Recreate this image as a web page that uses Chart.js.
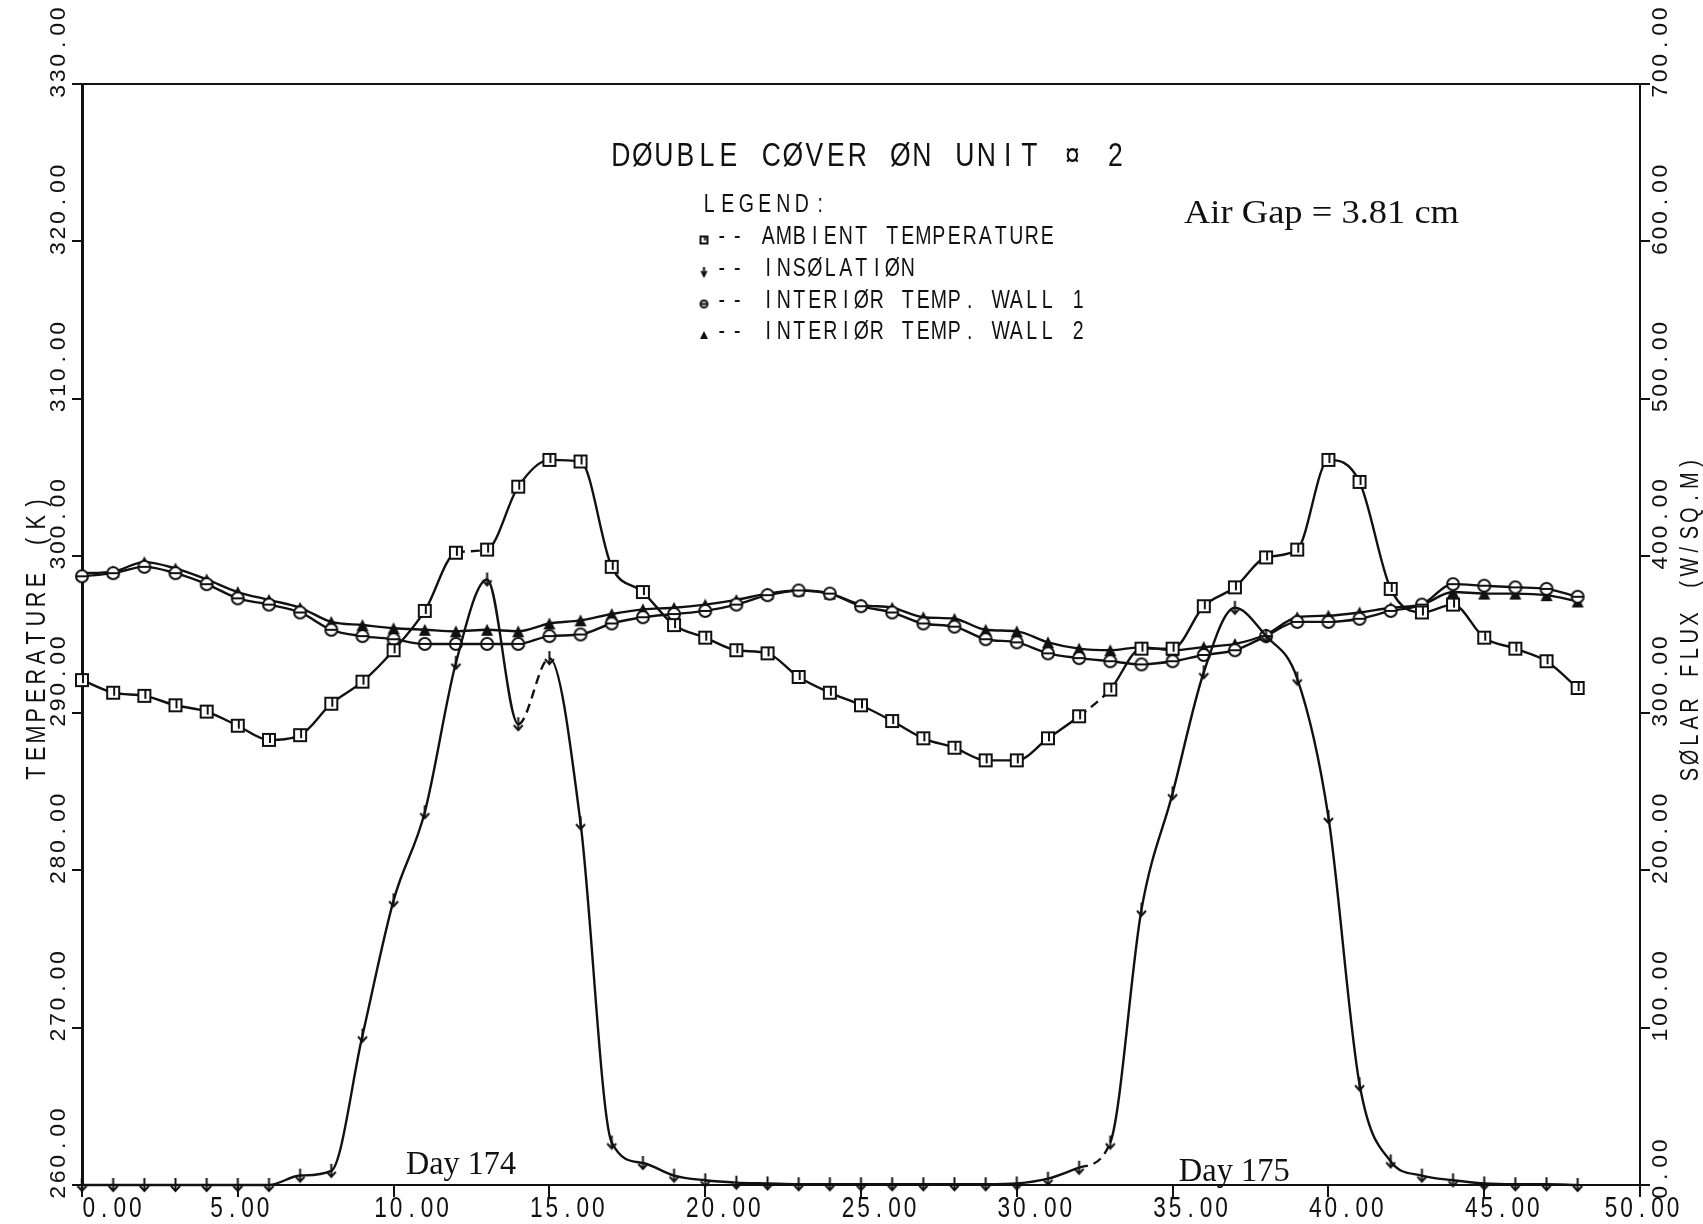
<!DOCTYPE html>
<html lang="en">
<head>
    <meta charset="UTF-8">
    <title>Double Cover on Unit 2</title>
    <script src="https://cdn.jsdelivr.net/npm/chart.js"></script>
    <style>
        html, body {
            margin: 0;
            padding: 0;
            background: #fff;
        }
        #wrap {
            width: 1703px;
            height: 1224px;
        }
    </style>
</head>
<body>
    <div id="wrap"><canvas id="grafico" width="1703" height="1224"></canvas></div>

    <script>
        // hourly readings, days 174-175
        const hours = [0, 1, 2, 3, 4, 5, 6, 7, 8, 9, 10, 11, 12, 13, 14, 15, 16, 17, 18, 19, 20, 21, 22, 23, 24,
                       25, 26, 27, 28, 29, 30, 31, 32, 33, 34, 35, 36, 37, 38, 39, 40, 41, 42, 43, 44, 45, 46, 47, 48];

        const ambientK = [292.1, 291.3, 291.1, 290.5, 290.1, 289.2, 288.3, 288.6, 290.6, 292.0, 294.0, 296.5, 300.2,
                          300.4, 304.4, 306.1, 306.0, 299.3, 297.7, 295.6, 294.8, 294.0, 293.8, 292.3, 291.3, 290.5,
                          289.5, 288.4, 287.8, 287.0, 287.0, 288.4, 289.8, 291.5, 294.1, 294.1, 296.8, 298.0, 299.9,
                          300.4, 306.1, 304.7, 297.9, 296.4, 296.9, 294.8, 294.1, 293.3, 291.6];

        const insolation = [0, 0, 0, 0, 0, 0, 0, 6, 9, 95, 181, 237, 332, 385, 293, 335, 230, 27, 14, 6, 3, 1.5, 1,
                            0.5, 0.5, 0.5, 0.5, 0.5, 0.5, 0.5, 1, 4, 11, 27, 175, 249, 326, 367, 349, 322, 234, 64,
                            15, 6, 3, 1, 0.5, 0.5, 0];

        const wall1K = [298.7, 298.9, 299.3, 298.9, 298.2, 297.3, 296.9, 296.4, 295.3, 294.9, 294.7, 294.4, 294.4,
                        294.4, 294.4, 294.9, 295.0, 295.7, 296.1, 296.3, 296.5, 296.9, 297.5, 297.8, 297.6, 296.8,
                        296.4, 295.7, 295.5, 294.7, 294.5, 293.8, 293.5, 293.3, 293.1, 293.3, 293.7, 294.0, 294.9,
                        295.8, 295.8, 296.0, 296.5, 296.9, 298.2, 298.1, 298.0, 297.9, 297.4];

        const wall2K = [298.9, 299.0, 299.6, 299.2, 298.5, 297.7, 297.2, 296.7, 295.8, 295.6, 295.4, 295.3, 295.2,
                        295.3, 295.2, 295.7, 295.9, 296.3, 296.6, 296.7, 296.9, 297.2, 297.6, 297.8, 297.6, 296.9,
                        296.7, 296.1, 296.0, 295.3, 295.2, 294.5, 294.1, 294.0, 294.2, 294.0, 294.2, 294.4, 295.0,
                        296.1, 296.2, 296.4, 296.7, 296.9, 297.7, 297.6, 297.6, 297.5, 297.1];

        const hourTicks = [0, 5, 10, 15, 20, 25, 30, 35, 40, 45, 50];
        const hourTickLabels = ['0.00', '5.00', '10.00', '15.00', '20.00', '25.00', '30.00', '35.00', '40.00', '45.00', '50.00'];
        const tempTicks = [260, 270, 280, 290, 300, 310, 320, 330];
        const tempTickLabels = ['260.00', '270.00', '280.00', '290.00', '300.00', '310.00', '320.00', '330.00'];
        const fluxTicks = [0, 100, 200, 300, 400, 500, 600, 700];
        const fluxTickLabels = ['0.00', '100.00', '200.00', '300.00', '400.00', '500.00', '600.00', '700.00'];

        const seriesNames = ['AMBIENT TEMPERATURE', 'INSOLATION', 'INTERIOR TEMP. WALL 1', 'INTERIOR TEMP. WALL 2'];
        const chartTitle = 'DOUBLE COVER ON UNIT \u00a4 2';
        const legendTitle = 'LEGEND:';
        const gapNote = 'Air Gap = 3.81 cm';
        const dayNotes = [{ text: 'Day 174', x: 10.4 }, { text: 'Day 175', x: 35.2 }];
        const leftTitle = 'TEMPERATURE (K)';
        const rightTitle = 'SOLAR FLUX (W/SQ.M)';

        const INK = '#111';

        // plotter marker glyphs
        function marca(w, h, dibujo) {
            const c = document.createElement('canvas');
            c.width = w; c.height = h;
            const g = c.getContext('2d');
            g.strokeStyle = INK; g.fillStyle = INK; g.lineWidth = 2;
            dibujo(g, w, h);
            return c;
        }
        function dibSquare(g, w, h) {
            g.fillStyle = '#fff';
            g.fillRect(2, 2, w - 4, h - 4);
            g.strokeRect(2, 2, w - 4, h - 4);
            g.beginPath(); g.moveTo(w / 2 + 1, 3); g.lineTo(w / 2 + 1, h - 5); g.stroke();
        }
        function dibArrow(g, w, h) {
            g.beginPath(); g.moveTo(w / 2, 1); g.lineTo(w / 2, h - 2); g.stroke();
            g.beginPath(); g.moveTo(2, h - 7); g.lineTo(w / 2, h - 2); g.lineTo(w - 2, h - 7); g.stroke();
        }
        function dibCircle(g, w, h) {
            g.fillStyle = '#fff';
            g.beginPath(); g.arc(w / 2, h / 2, w / 2 - 2, 0, Math.PI * 2); g.fill(); g.stroke();
            g.beginPath(); g.moveTo(2, h / 2); g.lineTo(w - 2, h / 2); g.stroke();
        }
        function dibTriangle(g, w, h) {
            g.beginPath(); g.moveTo(w / 2, 1); g.lineTo(w - 1, h - 1); g.lineTo(1, h - 1); g.closePath(); g.fill();
        }

        const markers = [
            marca(16, 16, dibSquare),
            marca(13, 16, dibArrow),
            marca(16, 16, dibCircle),
            marca(14, 14, dibTriangle)
        ];
        const smallMarkers = [
            marca(11, 11, dibSquare),
            marca(9, 12, dibArrow),
            marca(11, 11, dibCircle),
            marca(10, 10, dibTriangle)
        ];

        // plotter letters: fixed cells, slashed letter O
        function plotter(s) { return s.replace(/O/g, '\u00d8'); }

        function celdas(ctx, str, x, y, cell, size, family, sx, align) {
            ctx.font = size + 'px ' + family;
            ctx.textAlign = 'center';
            ctx.textBaseline = 'alphabetic';
            const total = str.length * cell;
            const x0 = align === 'center' ? x - total / 2 : x;
            const base = y + size * 0.358;
            for (let i = 0; i < str.length; i++) {
                const c = str[i];
                if (c === ' ') continue;
                ctx.save();
                ctx.translate(x0 + (i + 0.5) * cell, base);
                ctx.scale(sx, 1);
                ctx.fillText(c, 0, 0);
                ctx.restore();
            }
        }

        function vertical(ctx, str, cx, y, cell, size, family, sx, align) {
            ctx.save();
            ctx.translate(cx, y);
            ctx.rotate(-Math.PI / 2);
            celdas(ctx, str, 0, 0, cell, size, family, sx, align);
            ctx.restore();
        }

        function ajustado(ctx, str, x, y, width, size, family) {
            ctx.font = size + 'px ' + family;
            ctx.textAlign = 'left';
            ctx.textBaseline = 'alphabetic';
            const w = ctx.measureText(str).width;
            ctx.save();
            ctx.translate(x, y + size * 0.33);
            ctx.scale(width / w, 1);
            ctx.fillText(str, 0, 0);
            ctx.restore();
        }

        const SANS = '"Liberation Sans", Arial, sans-serif';
        const SERIF = '"Liberation Serif", "Times New Roman", serif';

        // the plotter did not centre every hour label the same way
        const hourLabelShift = { '0.00': 30, '5.00': 2, '50.00': 2 };

        const textos = {
            id: 'textos',
            afterDraw(chart) {
                const ctx = chart.ctx;
                const a = chart.chartArea;
                const sx = chart.scales.x, sy = chart.scales.y, sy2 = chart.scales.y2;
                ctx.save();
                ctx.fillStyle = INK;
                ctx.strokeStyle = INK;

                // top frame
                ctx.lineWidth = 2;
                ctx.beginPath(); ctx.moveTo(a.left, a.top); ctx.lineTo(a.right, a.top); ctx.stroke();

                // tick labels
                hourTicks.forEach((v, i) => {
                    const lab = hourTickLabels[i];
                    const d = lab in hourLabelShift ? hourLabelShift[lab] : 18;
                    celdas(ctx, lab, sx.getPixelForValue(v) + d, 1207, 15.5, 29, SANS, 0.78, 'center');
                });
                tempTicks.forEach((v, i) => {
                    vertical(ctx, tempTickLabels[i], 57, Math.min(sy.getPixelForValue(v) + 15, 1215), 15.5, 22, SANS, 1.05, 'left');
                });
                fluxTicks.forEach((v, i) => {
                    vertical(ctx, fluxTickLabels[i], 1659, Math.min(sy2.getPixelForValue(v) + 15, 1215), 15.5, 22, SANS, 1.05, 'left');
                });

                // axis titles
                vertical(ctx, leftTitle, 35, 638, 19.3, 27, SANS, 0.8, 'center');
                vertical(ctx, plotter(rightTitle), 1689, 619, 17.3, 25, SANS, 0.8, 'center');

                // title and legend
                celdas(ctx, plotter(chartTitle), 868, 154, 21.5, 34, SANS, 0.78, 'center');
                celdas(ctx, legendTitle, 700, 203, 18.5, 25, SANS, 0.78, 'left');
                const filas = [235, 267, 299, 330];
                seriesNames.forEach((n, i) => {
                    const m = smallMarkers[i];
                    ctx.drawImage(m, 704 - m.width / 2, filas[i] + 5 - m.height / 2);
                    celdas(ctx, plotter('-- ' + n), 714, filas[i], 15.5, 25, SANS, 0.78, 'left');
                });

                // notes
                ajustado(ctx, gapNote, 1184, 212, 275, 34, SERIF);
                ajustado(ctx, dayNotes[0].text, sx.getPixelForValue(dayNotes[0].x), 1163, 110, 34, SERIF);
                ajustado(ctx, dayNotes[1].text, sx.getPixelForValue(dayNotes[1].x), 1170, 111, 34, SERIF);

                ctx.restore();
            }
        };

        function serie(valores) {
            return hours.map((h, i) => ({ x: h, y: valores[i] }));
        }

        // pen skips seen on the original plot (segment start indexes)
        function trazo(saltos) {
            return { borderDash: c => saltos.includes(c.p0DataIndex) ? [9, 6] : undefined };
        }

        const base = {
            borderColor: INK,
            borderWidth: 2.4,
            cubicInterpolationMode: 'monotone',
            fill: false,
            clip: false,
            pointRadius: 7,
            pointHoverRadius: 7
        };

        const ctxGraf = document.getElementById('grafico').getContext('2d');
        const grafico = new Chart(ctxGraf, {
            type: 'line',
            data: {
                datasets: [
                    Object.assign({}, base, { label: seriesNames[0], data: serie(ambientK), yAxisID: 'y', pointStyle: markers[0], segment: trazo([12, 32]) }),
                    Object.assign({}, base, { label: seriesNames[1], data: serie(insolation), yAxisID: 'y2', pointStyle: markers[1], segment: trazo([14, 32]) }),
                    Object.assign({}, base, { label: seriesNames[2], data: serie(wall1K), yAxisID: 'y', pointStyle: markers[2] }),
                    Object.assign({}, base, { label: seriesNames[3], data: serie(wall2K), yAxisID: 'y', pointStyle: markers[3] })
                ]
            },
            options: {
                responsive: false,
                animation: false,
                devicePixelRatio: 1,
                layout: { padding: { top: 84, left: 0, right: 0, bottom: 0 } },
                plugins: {
                    legend: { display: false },
                    tooltip: { enabled: false }
                },
                scales: {
                    x: {
                        type: 'linear', position: 'bottom', min: 0, max: 50,
                        ticks: { stepSize: 5, display: false },
                        grid: { drawOnChartArea: false, drawTicks: true, tickLength: 12, color: INK, lineWidth: 2 },
                        border: { display: true, color: INK, width: 2 },
                        afterFit(s) { s.height = 39; }
                    },
                    y: {
                        type: 'linear', position: 'left', min: 260, max: 330,
                        ticks: { stepSize: 10, display: false },
                        grid: { drawOnChartArea: false, drawTicks: true, tickLength: 10, color: INK, lineWidth: 2 },
                        border: { display: true, color: INK, width: 3 },
                        afterFit(s) { s.width = 82; }
                    },
                    y2: {
                        type: 'linear', position: 'right', min: 0, max: 700,
                        ticks: { stepSize: 100, display: false },
                        grid: { drawOnChartArea: false, drawTicks: true, tickLength: 10, color: INK, lineWidth: 2 },
                        border: { display: true, color: INK, width: 2 },
                        afterFit(s) { s.width = 63; }
                    }
                }
            },
            plugins: [textos]
        });
    </script>
</body>
</html>
